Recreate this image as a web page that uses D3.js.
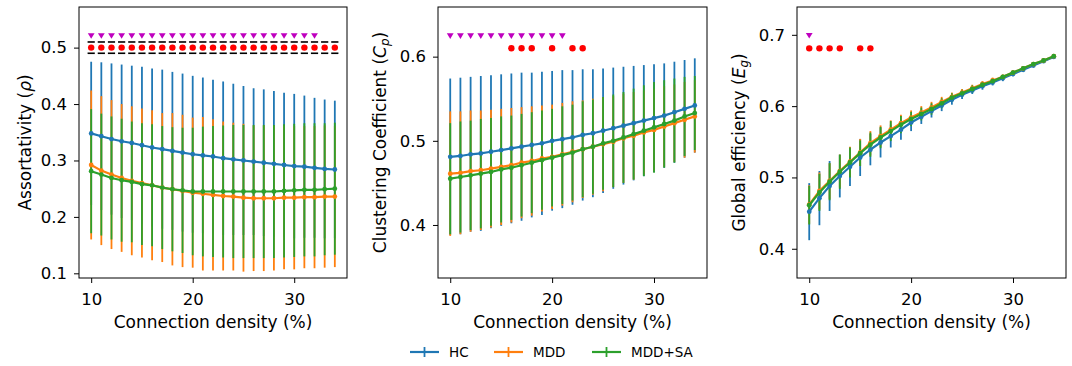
<!DOCTYPE html>
<html>
<head>
<meta charset="utf-8">
<script src="https://cdn.jsdelivr.net/npm/d3@7"></script>
<style>
  body { margin: 0; background: #fff; }
  svg text { font-family: "DejaVu Sans", sans-serif; fill: #000; }
</style>
</head>
<body>
<div id="chart"></div>
<script>
// connection density steps (%)
const density = d3.range(10, 35)   // 10..34

const groups = ["HC", "MDD", "MDD+SA"]
const colors = ["#1f77b4", "#ff7f0e", "#2ca02c"]

// assortativity: mean and std per group
const assortMean = [
  [0.348,0.343,0.338,0.334,0.331,0.327,0.323,0.320,0.317,0.314,0.311,0.309,0.307,0.304,0.302,0.300,0.298,0.296,0.294,0.292,0.290,0.289,0.287,0.285,0.284],
  [0.292,0.282,0.275,0.269,0.264,0.260,0.256,0.252,0.249,0.246,0.243,0.241,0.239,0.237,0.236,0.234,0.233,0.233,0.233,0.234,0.234,0.235,0.235,0.236,0.236],
  [0.281,0.275,0.269,0.265,0.262,0.258,0.256,0.252,0.249,0.247,0.245,0.245,0.245,0.245,0.245,0.245,0.245,0.245,0.245,0.246,0.247,0.248,0.248,0.249,0.250]
]
const assortStd = [
  [0.127,0.131,0.134,0.136,0.137,0.139,0.140,0.141,0.140,0.140,0.139,0.138,0.136,0.136,0.134,0.132,0.130,0.130,0.129,0.128,0.128,0.126,0.124,0.123,0.122],
  [0.132,0.132,0.132,0.131,0.132,0.132,0.133,0.132,0.135,0.135,0.133,0.136,0.134,0.132,0.131,0.131,0.129,0.129,0.128,0.127,0.127,0.126,0.126,0.126,0.125],
  [0.110,0.108,0.109,0.109,0.107,0.108,0.108,0.109,0.110,0.111,0.113,0.115,0.116,0.117,0.118,0.118,0.118,0.118,0.118,0.118,0.118,0.118,0.118,0.117,0.117]
]
const assortTri = d3.range(10, 33)   // significance (triangles)
const assortDot = d3.range(10, 35)   // significance (dots)
const assortDash = d3.range(10, 35)

// clustering coefficient
const clustMean = [
  [0.481,0.482,0.484,0.485,0.487,0.489,0.491,0.493,0.495,0.497,0.500,0.502,0.504,0.507,0.509,0.512,0.515,0.518,0.521,0.524,0.527,0.530,0.534,0.538,0.542],
  [0.461,0.462,0.464,0.465,0.467,0.469,0.471,0.474,0.476,0.479,0.481,0.484,0.487,0.490,0.493,0.496,0.499,0.503,0.506,0.510,0.513,0.517,0.521,0.525,0.529],
  [0.455,0.457,0.459,0.461,0.463,0.466,0.468,0.471,0.474,0.477,0.480,0.483,0.486,0.490,0.493,0.497,0.500,0.504,0.508,0.512,0.516,0.520,0.524,0.529,0.533]
]
const clustStd = [
  [0.093,0.093,0.092,0.092,0.091,0.090,0.089,0.088,0.086,0.085,0.083,0.082,0.080,0.078,0.076,0.074,0.072,0.070,0.068,0.066,0.064,0.062,0.060,0.058,0.056],
  [0.074,0.073,0.072,0.071,0.070,0.069,0.068,0.066,0.065,0.063,0.062,0.061,0.060,0.058,0.057,0.056,0.054,0.053,0.052,0.050,0.049,0.048,0.046,0.045,0.043],
  [0.066,0.066,0.065,0.065,0.064,0.063,0.062,0.061,0.060,0.059,0.058,0.058,0.057,0.057,0.056,0.055,0.055,0.054,0.054,0.054,0.054,0.052,0.050,0.047,0.044]
]
const clustTri = d3.range(10, 22)
const clustDot = [16, 17, 18, 20, 22, 23]

// global efficiency
const effMean = [
  [0.452,0.471,0.488,0.502,0.515,0.528,0.539,0.549,0.558,0.567,0.577,0.585,0.593,0.601,0.609,0.616,0.622,0.628,0.633,0.639,0.645,0.651,0.657,0.663,0.669],
  [0.462,0.481,0.495,0.509,0.522,0.535,0.548,0.558,0.567,0.576,0.584,0.591,0.598,0.606,0.613,0.619,0.625,0.631,0.636,0.641,0.647,0.653,0.659,0.664,0.670],
  [0.461,0.479,0.494,0.508,0.521,0.534,0.546,0.556,0.565,0.574,0.582,0.589,0.596,0.604,0.612,0.618,0.624,0.630,0.635,0.641,0.647,0.653,0.659,0.664,0.670]
]
const effStd = [
  [0.040,0.038,0.035,0.030,0.027,0.026,0.022,0.021,0.016,0.014,0.012,0.010,0.009,0.008,0.007,0.006,0.005,0.005,0.004,0.004,0.003,0.003,0.002,0.002,0.002],
  [0.027,0.026,0.025,0.023,0.021,0.019,0.017,0.015,0.013,0.012,0.010,0.009,0.008,0.007,0.006,0.005,0.005,0.004,0.004,0.003,0.003,0.003,0.002,0.002,0.002],
  [0.027,0.026,0.026,0.024,0.021,0.018,0.017,0.015,0.014,0.012,0.010,0.009,0.008,0.007,0.006,0.005,0.005,0.004,0.004,0.003,0.003,0.003,0.002,0.002,0.002]
]
const effTri = [10]
const effDot = [10, 11, 12, 13, 15, 16]

const W = 1072, H = 366
const svg = d3.select("#chart").append("svg")
  .attr("width", W).attr("height", H)

const fsTick = 16.5, fsLab = 17

function panel(opt) {
  const x = d3.scaleLinear().domain([8.8, 35.2]).range([opt.left, opt.right])
  const y = d3.scaleLinear().domain(opt.ydom).range([278, 7])
  const g = svg.append("g")

  // error bars first
  opt.mean.forEach((m, k) => {
    g.append("g").selectAll("line").data(density).join("line")
      .attr("x1", d => x(d)).attr("x2", d => x(d))
      .attr("y1", (d, i) => y(m[i] - opt.std[k][i]))
      .attr("y2", (d, i) => y(m[i] + opt.std[k][i]))
      .attr("stroke", colors[k]).attr("stroke-width", 1.8)
  })
  // then mean lines
  opt.mean.forEach((m, k) => {
    g.append("path").datum(m)
      .attr("fill", "none").attr("stroke", colors[k]).attr("stroke-width", 2.2)
      .attr("d", d3.line().x((d, i) => x(density[i])).y(d => y(d)))
    g.append("g").selectAll("circle").data(m).join("circle")
      .attr("cx", (d, i) => x(density[i])).attr("cy", d => y(d))
      .attr("r", 2.4).attr("fill", colors[k])
  })

  // significance markers
  if (opt.dash) {
    opt.dashY.forEach(v => {
      g.append("g").selectAll("line").data(opt.dash).join("line")
        .attr("x1", d => x(d) - 3.6).attr("x2", d => x(d) + 3.6)
        .attr("y1", y(v)).attr("y2", y(v))
        .attr("stroke", "#000").attr("stroke-width", 1.6)
    })
  }
  g.append("g").selectAll("circle").data(opt.dot).join("circle")
    .attr("cx", d => x(d)).attr("cy", y(opt.dotY))
    .attr("r", 3.2).attr("fill", "#ff0000")
  g.append("g").selectAll("path").data(opt.tri).join("path")
    .attr("transform", d => `translate(${x(d)},${y(opt.triY)})`)
    .attr("d", "M-3.4,-2.6L3.4,-2.6L0,3L-3.4,-2.6Z")
    .attr("fill", "#bf00bf")

  // frame
  g.append("rect")
    .attr("x", opt.left).attr("y", 7)
    .attr("width", opt.right - opt.left).attr("height", 271)
    .attr("fill", "none").attr("stroke", "#000").attr("stroke-width", 1)

  const xa = g.append("g").attr("transform", "translate(0,278)")
    .call(d3.axisBottom(x).tickValues([10, 20, 30]).tickSize(5).tickPadding(10).tickFormat(d3.format("d")))
  const ya = g.append("g").attr("transform", `translate(${opt.left},0)`)
    .call(d3.axisLeft(y).tickValues(opt.yticks).tickSize(5).tickPadding(7).tickFormat(d3.format(".1f")))
  ;[xa, ya].forEach(a => {
    a.select(".domain").remove()
    a.selectAll("text").attr("font-size", fsTick).attr("font-family", "DejaVu Sans")
    a.selectAll("line").attr("stroke-width", 1)
  })

  g.append("text")
    .attr("x", (opt.left + opt.right) / 2).attr("y", 328)
    .attr("text-anchor", "middle").attr("font-size", fsLab)
    .text("Connection density (%)")

  const yl = g.append("text")
    .attr("transform", `translate(${opt.ylx},${(7 + 278) / 2}) rotate(-90)`)
    .attr("text-anchor", "middle").attr("font-size", fsLab)
  opt.ylabel(yl)
}

panel({
  left: 79, right: 347, ydom: [0.0917, 0.572], yticks: [0.1, 0.2, 0.3, 0.4, 0.5],
  mean: assortMean, std: assortStd,
  tri: assortTri, triY: 0.521, dot: assortDot, dotY: 0.5,
  dash: assortDash, dashY: [0.51, 0.49], ylx: 31,
  ylabel: t => {
    t.append("tspan").text("Assortativity (")
    t.append("tspan").attr("font-style", "italic").text("ρ")
    t.append("tspan").text(")")
  }
})

panel({
  left: 438, right: 707, ydom: [0.337, 0.659], yticks: [0.4, 0.5, 0.6],
  mean: clustMean, std: clustStd,
  tri: clustTri, triY: 0.6246, dot: clustDot, dotY: 0.610, ylx: 386,
  ylabel: t => {
    t.append("tspan").text("Clustering Coefficient (")
    t.append("tspan").attr("font-style", "italic").text("C")
    t.append("tspan").attr("font-style", "italic").attr("font-size", fsLab * 0.7).attr("dy", 3).text("p")
    t.append("tspan").attr("dy", -3).text(")")
  }
})

panel({
  left: 797, right: 1066, ydom: [0.359, 0.739], yticks: [0.4, 0.5, 0.6, 0.7],
  mean: effMean, std: effStd,
  tri: effTri, triY: 0.699, dot: effDot, dotY: 0.681, ylx: 745,
  ylabel: t => {
    t.append("tspan").text("Global efficiency (")
    t.append("tspan").attr("font-style", "italic").text("E")
    t.append("tspan").attr("font-style", "italic").attr("font-size", fsLab * 0.7).attr("dy", 3).text("g")
    t.append("tspan").attr("dy", -3).text(")")
  }
})

// legend
const legX = [410, 494, 592]
const leg = svg.append("g")
groups.forEach((name, k) => {
  const lx = legX[k], ly = 352
  leg.append("line").attr("x1", lx).attr("x2", lx + 29).attr("y1", ly).attr("y2", ly)
    .attr("stroke", colors[k]).attr("stroke-width", 2.2)
  leg.append("line").attr("x1", lx + 14.5).attr("x2", lx + 14.5).attr("y1", ly - 5).attr("y2", ly + 5)
    .attr("stroke", colors[k]).attr("stroke-width", 1.8)
  leg.append("text").attr("x", lx + 39).attr("y", ly + 5)
    .attr("font-size", 13.5).text(name)
})
</script>
</body>
</html>
